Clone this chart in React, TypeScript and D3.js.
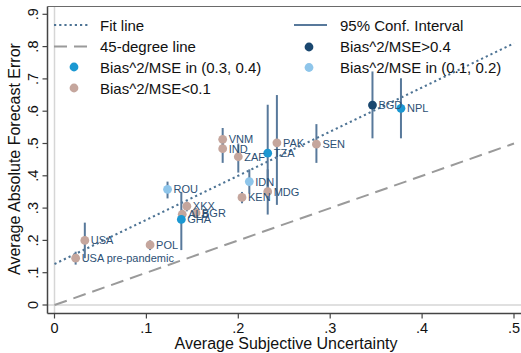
import React from "react";
import * as d3 from "d3";

// Country-level observations
const countries = ["USA pre-pandemic", "USA", "POL", "ROU", "XKX", "ALB", "BGR", "GHA", "VNM", "IND", "ZAF", "IDN", "KEN", "TZA", "MDG", "PAK", "SEN", "BGD", "NPL"];
const uncertainty = [0.023, 0.033, 0.104, 0.123, 0.144, 0.139, 0.154, 0.138, 0.183, 0.183, 0.2, 0.212, 0.204, 0.232, 0.232, 0.242, 0.285, 0.346, 0.377];
const absError = [0.145, 0.2, 0.186, 0.358, 0.306, 0.281, 0.285, 0.265, 0.513, 0.484, 0.459, 0.382, 0.333, 0.47, 0.351, 0.502, 0.498, 0.619, 0.609];
const ciLow = [0.125, 0.145, 0.17, 0.33, 0.29, 0.265, 0.27, 0.17, 0.475, 0.44, 0.41, 0.345, 0.315, 0.33, 0.28, 0.31, 0.44, 0.516, 0.516];
const ciHigh = [0.165, 0.255, 0.2, 0.382, 0.32, 0.295, 0.3, 0.35, 0.548, 0.52, 0.5, 0.42, 0.35, 0.62, 0.42, 0.65, 0.56, 0.723, 0.702];
// Bias^2/MSE group: 0 = <0.1, 1 = (0.1, 0.2), 2 = (0.3, 0.4), 3 = >0.4
const biasGroup = [0, 0, 0, 1, 0, 0, 0, 2, 0, 0, 0, 1, 0, 2, 0, 0, 0, 3, 2];

const fitIntercept = 0.127;
const fitSlope = 1.366;

const xTicks = [0, 0.1, 0.2, 0.3, 0.4, 0.5];
const yTicks = [0, 0.1, 0.2, 0.3, 0.4, 0.5, 0.6, 0.7, 0.8, 0.9];

const groupColors = ["#c5a69d", "#8ec5ea", "#1b98d2", "#1a476f"];
const ciColor = "#58799b";
const fitColor = "#4d7394";
const labelColor = "#2c4f74";
const font = "Liberation Sans, Arial, Helvetica, sans-serif";

const tickLabel = (v: number) => (v === 0 ? "0" : d3.format(".1f")(v).replace(/^0/, ""));

export default function App() {
  const width = 521;
  const height = 353;
  const x = d3.scaleLinear().domain([0, 0.5]).range([54.5, 514]);
  const y = d3.scaleLinear().domain([0, 0.9]).range([305, 14.3]);
  const axisLeft = 47.5;
  const axisBottom = 313.5;
  const frameTop = 6.5;

  const fitLine = d3.line<number>().x((d) => x(d)).y((d) => y(fitIntercept + fitSlope * d));
  const diagLine = d3.line<number>().x((d) => x(d)).y((d) => y(d));

  const order = d3.range(countries.length);

  return (
    <svg width={width} height={height} style={{ position: "absolute", left: 0, top: 0, background: "#fff" }} fontFamily={font}>
      <rect width={width} height={height} fill="#fff" />
      {/* zero reference lines */}
      <line x1={axisLeft} x2={width} y1={y(0)} y2={y(0)} stroke="#d6d6d6" strokeWidth={1.5} />
      <line x1={x(0)} x2={x(0)} y1={frameTop} y2={axisBottom} stroke="#d6d6d6" strokeWidth={1.5} />
      {/* frame */}
      <line x1={axisLeft} x2={width + 2} y1={frameTop} y2={frameTop} stroke="#6a6a6a" strokeWidth={1.2} />
      <line x1={axisLeft} x2={axisLeft} y1={frameTop} y2={axisBottom} stroke="#444" strokeWidth={1.5} />
      <line x1={axisLeft} x2={width + 2} y1={axisBottom} y2={axisBottom} stroke="#444" strokeWidth={1.5} />

      {/* y ticks */}
      {yTicks.map((t) => (
        <g key={"y" + t}>
          <line x1={axisLeft - 5} x2={axisLeft} y1={y(t)} y2={y(t)} stroke="#444" strokeWidth={1.2} />
          <text
            transform={`translate(${axisLeft - 10},${y(t)}) rotate(-90)`}
            textAnchor="middle"
            fontSize={14.5}
            fill="#111"
          >
            {tickLabel(t)}
          </text>
        </g>
      ))}
      {/* x ticks */}
      {xTicks.map((t) => (
        <g key={"x" + t}>
          <line x1={x(t)} x2={x(t)} y1={axisBottom} y2={axisBottom + 5} stroke="#444" strokeWidth={1.2} />
          <text x={x(t)} y={333} textAnchor="middle" fontSize={14.5} fill="#111">
            {tickLabel(t)}
          </text>
        </g>
      ))}
      <text x={286} y={349} textAnchor="middle" fontSize={16} fill="#111">
        Average Subjective Uncertainty
      </text>
      <text transform={`translate(20,159) rotate(-90)`} textAnchor="middle" fontSize={16} fill="#111">
        Average Absolute Forecast Error
      </text>

      {/* reference lines */}
      <path d={diagLine([0, 0.5]) || ""} stroke="#9a9a9a" strokeWidth={2} strokeDasharray="13,7" fill="none" />
      <path d={fitLine([0, 0.5]) || ""} stroke={fitColor} strokeWidth={2} strokeDasharray="2.2,3" fill="none" />

      {/* confidence intervals */}
      {order.map((i) => (
        <line key={"ci" + i} x1={x(uncertainty[i])} x2={x(uncertainty[i])} y1={y(ciLow[i])} y2={y(ciHigh[i])} stroke={ciColor} strokeWidth={2} />
      ))}
      {/* points */}
      {order.map((i) => (
        <circle key={"p" + i} cx={x(uncertainty[i])} cy={y(absError[i])} r={4.4} fill={groupColors[biasGroup[i]]} />
      ))}
      {/* labels */}
      {order.map((i) => (
        <text key={"l" + i} x={x(uncertainty[i]) + 6} y={y(absError[i])} dy="0.36em" fontSize={11} fill={labelColor}>
          {countries[i]}
        </text>
      ))}

      {/* legend */}
      <g fontSize={15} fill="#111">
        <line x1={54} x2={90} y1={25} y2={25} stroke={fitColor} strokeWidth={2} strokeDasharray="2.2,3" />
        <text x={100} y={30.5}>Fit line</text>
        <line x1={54} x2={90} y1={46.5} y2={46.5} stroke="#9a9a9a" strokeWidth={2} strokeDasharray="13,7" />
        <text x={100} y={52}>45-degree line</text>
        <circle cx={74} cy={67} r={4.4} fill={groupColors[2]} />
        <text x={100} y={72.5}>Bias^2/MSE in (0.3, 0.4)</text>
        <circle cx={74} cy={88} r={4.4} fill={groupColors[0]} />
        <text x={100} y={93.5}>Bias^2/MSE&lt;0.1</text>

        <line x1={294} x2={327} y1={25} y2={25} stroke={ciColor} strokeWidth={2} />
        <text x={340} y={30.5}>95% Conf. Interval</text>
        <circle cx={309} cy={47} r={4.4} fill={groupColors[3]} />
        <text x={340} y={52}>Bias^2/MSE&gt;0.4</text>
        <circle cx={309} cy={67.5} r={4.4} fill={groupColors[1]} />
        <text x={340} y={72.5}>Bias^2/MSE in (0.1, 0.2)</text>
      </g>
    </svg>
  );
}
